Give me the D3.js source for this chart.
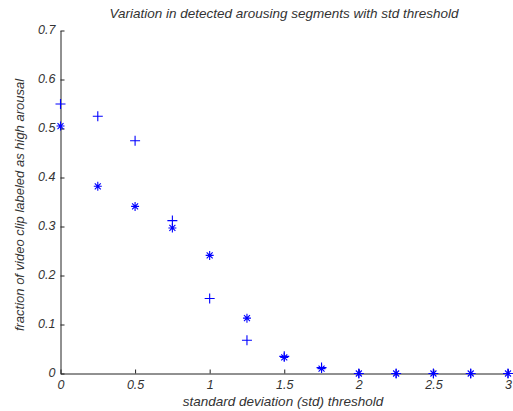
<!DOCTYPE html>
<html>
<head>
<meta charset="utf-8">
<script src="https://cdn.jsdelivr.net/npm/d3@7"></script>
<style>
  body { margin: 0; background: #fff; }
  text { font-family: "Liberation Sans", Arial, sans-serif; font-style: italic; fill: #333; }
</style>
</head>
<body>
<svg id="chart" width="513" height="411"></svg>
<script>
// std thresholds
var thresholds = [0, 0.25, 0.5, 0.75, 1.0, 1.25, 1.5, 1.75, 2.0, 2.25, 2.5, 2.75, 3.0];
// series drawn with '+'
var plusValues = [0.55, 0.525, 0.475, 0.312, 0.153, 0.068, 0.035, 0.012, 0, 0, 0, 0, 0];
// series drawn with '*'
var starValues = [0.505, 0.382, 0.341, 0.297, 0.241, 0.113, 0.033, 0.010, 0, 0, 0, 0, 0];

var xTicks = [0, 0.5, 1, 1.5, 2, 2.5, 3];
var yTicks = [0, 0.1, 0.2, 0.3, 0.4, 0.5, 0.6, 0.7];

var svg = d3.select("#chart");

var x = d3.scaleLinear().domain([0, 3]).range([60.5, 508]);
var y = d3.scaleLinear().domain([0, 0.7]).range([373.5, 30.5]);

var g = svg.append("g");

// axes, ticks pointing inward like matlab
var xAxis = d3.axisBottom(x).tickValues(xTicks).tickSizeInner(-4).tickSizeOuter(0)
  .tickPadding(7).tickFormat(d3.format("~g"));
var yAxis = d3.axisLeft(y).tickValues(yTicks).tickSizeInner(-4).tickSizeOuter(0)
  .tickPadding(5).tickFormat(d3.format("~g"));

var gx = g.append("g").attr("transform", "translate(0," + y(0) + ")").call(xAxis);
var gy = g.append("g").attr("transform", "translate(" + x(0) + ",0)").call(yAxis);

[gx, gy].forEach(function(a){
  a.select(".domain").attr("stroke", "#222").attr("stroke-width", 1);
  a.selectAll(".tick line").attr("stroke", "#222");
  a.selectAll(".tick text")
    .style("font-family", '"Liberation Sans", Arial, sans-serif')
    .style("font-style", "italic")
    .style("font-size", "12.5px")
    .attr("fill", "#333");
});
gy.selectAll(".tick text").attr("dy", "0.2em");

// '+' markers
var plusData = thresholds.map(function(t, i){ return {t: t, v: plusValues[i]}; });
var starData = thresholds.map(function(t, i){ return {t: t, v: starValues[i]}; });

var pg = g.selectAll("g.plus")
  .data(plusData)
  .enter().append("g")
  .attr("class", "plus")
  .attr("transform", function(d){ return "translate(" + x(d.t) + "," + y(d.v) + ")"; });
pg.append("path")
  .attr("d", "M-5,0H5M0,-5V5")
  .attr("stroke", "#0000ff")
  .attr("stroke-width", 1.1)
  .attr("fill", "none");

var sg = g.selectAll("g.star")
  .data(starData)
  .enter().append("g")
  .attr("class", "star")
  .attr("transform", function(d){ return "translate(" + x(d.t) + "," + y(d.v) + ")"; });
sg.append("path")
  .attr("d", "M-4,0H4M0,-4.5V4.5M-3,-3L3,3M-3,3L3,-3")
  .attr("stroke", "#0000ff")
  .attr("stroke-width", 1.1)
  .attr("fill", "none");

// labels
svg.append("text")
  .attr("x", 284).attr("y", 18)
  .attr("text-anchor", "middle")
  .style("font-size", "13.5px")
  .text("Variation in detected arousing segments with std threshold");

svg.append("text")
  .attr("x", 283).attr("y", 406)
  .attr("text-anchor", "middle")
  .style("font-size", "13.5px")
  .text("standard deviation (std) threshold");

svg.append("text")
  .attr("transform", "translate(24," + 205 + ") rotate(-90)")
  .attr("text-anchor", "middle")
  .style("font-size", "13px")
  .text("fraction of video clip labeled as high arousal");
</script>
</body>
</html>
